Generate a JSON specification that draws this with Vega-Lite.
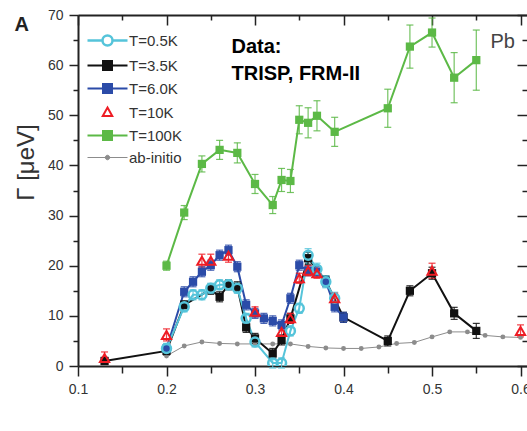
{
  "$schema": "https://vega.github.io/schema/vega-lite/v6.json",
  "autosize": {"type": "none"},
  "width": 449,
  "height": 351,
  "padding": {"left": 78, "top": 15, "right": 0, "bottom": 65},
  "background": "white",
  "config": {"view": {"stroke": null}, "font": "Liberation Sans",
    "axis": {"grid": false, "domainColor": "#222", "domainWidth": 2, "tickColor": "#222", "tickWidth": 1.5, "labelFont": "Liberation Sans", "labelFontSize": 14, "labelColor": "#333", "labelOverlap": false, "labelFlush": false}},
  "data": {"values": [
    {"series": "ab-initio", "x": 0.20, "y": 2.0},
    {"series": "ab-initio", "x": 0.22, "y": 4.0},
    {"series": "ab-initio", "x": 0.24, "y": 4.8},
    {"series": "ab-initio", "x": 0.26, "y": 4.5},
    {"series": "ab-initio", "x": 0.28, "y": 4.4},
    {"series": "ab-initio", "x": 0.30, "y": 4.4},
    {"series": "ab-initio", "x": 0.32, "y": 4.4},
    {"series": "ab-initio", "x": 0.34, "y": 4.4},
    {"series": "ab-initio", "x": 0.36, "y": 3.9},
    {"series": "ab-initio", "x": 0.38, "y": 3.6},
    {"series": "ab-initio", "x": 0.40, "y": 3.5},
    {"series": "ab-initio", "x": 0.42, "y": 3.5},
    {"series": "ab-initio", "x": 0.44, "y": 3.8},
    {"series": "ab-initio", "x": 0.46, "y": 4.5},
    {"series": "ab-initio", "x": 0.48, "y": 4.7},
    {"series": "ab-initio", "x": 0.50, "y": 5.8},
    {"series": "ab-initio", "x": 0.52, "y": 6.8},
    {"series": "ab-initio", "x": 0.54, "y": 6.8},
    {"series": "ab-initio", "x": 0.56, "y": 6.1},
    {"series": "ab-initio", "x": 0.58, "y": 5.8},
    {"series": "ab-initio", "x": 0.60, "y": 5.7},
    {"series": "T=100K", "x": 0.20, "y": 20.0, "err": 0.9},
    {"series": "T=100K", "x": 0.22, "y": 30.6, "err": 1.4},
    {"series": "T=100K", "x": 0.24, "y": 40.3, "err": 1.6},
    {"series": "T=100K", "x": 0.26, "y": 43.1, "err": 1.9},
    {"series": "T=100K", "x": 0.28, "y": 42.5, "err": 2.0},
    {"series": "T=100K", "x": 0.30, "y": 36.3, "err": 1.9},
    {"series": "T=100K", "x": 0.32, "y": 32.1, "err": 1.7},
    {"series": "T=100K", "x": 0.33, "y": 37.1, "err": 2.3},
    {"series": "T=100K", "x": 0.34, "y": 36.9, "err": 2.3},
    {"series": "T=100K", "x": 0.35, "y": 49.1, "err": 2.8},
    {"series": "T=100K", "x": 0.36, "y": 48.5, "err": 3.0},
    {"series": "T=100K", "x": 0.37, "y": 49.9, "err": 3.0},
    {"series": "T=100K", "x": 0.39, "y": 46.7, "err": 2.9},
    {"series": "T=100K", "x": 0.45, "y": 51.4, "err": 3.8},
    {"series": "T=100K", "x": 0.475, "y": 63.7, "err": 4.3},
    {"series": "T=100K", "x": 0.50, "y": 66.5, "err": 2.9},
    {"series": "T=100K", "x": 0.525, "y": 57.5, "err": 5.0},
    {"series": "T=100K", "x": 0.55, "y": 61.0, "err": 6.0},
    {"series": "T=3.5K", "x": 0.13, "y": 1.0, "err": 0.7},
    {"series": "T=3.5K", "x": 0.20, "y": 3.0, "err": 0.8},
    {"series": "T=3.5K", "x": 0.22, "y": 12.2, "err": 0.8},
    {"series": "T=3.5K", "x": 0.25, "y": 15.3, "err": 1.0},
    {"series": "T=3.5K", "x": 0.26, "y": 13.8, "err": 1.0},
    {"series": "T=3.5K", "x": 0.27, "y": 16.2, "err": 1.0},
    {"series": "T=3.5K", "x": 0.28, "y": 15.8, "err": 1.0},
    {"series": "T=3.5K", "x": 0.29, "y": 7.7, "err": 1.0},
    {"series": "T=3.5K", "x": 0.30, "y": 5.5, "err": 1.0},
    {"series": "T=3.5K", "x": 0.32, "y": 2.5, "err": 1.0},
    {"series": "T=3.5K", "x": 0.33, "y": 5.2, "err": 1.0},
    {"series": "T=3.5K", "x": 0.34, "y": 9.5, "err": 1.0},
    {"series": "T=3.5K", "x": 0.36, "y": 21.5, "err": 1.2},
    {"series": "T=3.5K", "x": 0.38, "y": 17.0, "err": 1.0},
    {"series": "T=3.5K", "x": 0.40, "y": 9.7, "err": 1.0},
    {"series": "T=3.5K", "x": 0.45, "y": 5.0, "err": 1.0},
    {"series": "T=3.5K", "x": 0.475, "y": 15.0, "err": 1.0},
    {"series": "T=3.5K", "x": 0.50, "y": 18.5, "err": 1.2},
    {"series": "T=3.5K", "x": 0.525, "y": 10.5, "err": 1.2},
    {"series": "T=3.5K", "x": 0.55, "y": 7.0, "err": 1.5},
    {"series": "T=6.0K", "x": 0.20, "y": 3.5, "err": 0.6},
    {"series": "T=6.0K", "x": 0.22, "y": 14.8, "err": 1.0},
    {"series": "T=6.0K", "x": 0.23, "y": 16.8, "err": 1.0},
    {"series": "T=6.0K", "x": 0.24, "y": 18.8, "err": 1.0},
    {"series": "T=6.0K", "x": 0.25, "y": 20.1, "err": 1.0},
    {"series": "T=6.0K", "x": 0.26, "y": 22.1, "err": 1.0},
    {"series": "T=6.0K", "x": 0.27, "y": 23.1, "err": 1.0},
    {"series": "T=6.0K", "x": 0.28, "y": 19.8, "err": 1.0},
    {"series": "T=6.0K", "x": 0.29, "y": 12.2, "err": 1.0},
    {"series": "T=6.0K", "x": 0.30, "y": 10.5, "err": 1.0},
    {"series": "T=6.0K", "x": 0.31, "y": 9.5, "err": 1.0},
    {"series": "T=6.0K", "x": 0.32, "y": 9.0, "err": 1.0},
    {"series": "T=6.0K", "x": 0.33, "y": 8.2, "err": 1.0},
    {"series": "T=6.0K", "x": 0.34, "y": 13.5, "err": 1.0},
    {"series": "T=6.0K", "x": 0.35, "y": 20.1, "err": 1.0},
    {"series": "T=6.0K", "x": 0.36, "y": 19.0, "err": 1.0},
    {"series": "T=6.0K", "x": 0.37, "y": 18.8, "err": 1.0},
    {"series": "T=6.0K", "x": 0.38, "y": 16.8, "err": 1.0},
    {"series": "T=6.0K", "x": 0.39, "y": 11.8, "err": 1.0},
    {"series": "T=6.0K", "x": 0.40, "y": 9.7, "err": 1.0},
    {"series": "T=0.5K", "x": 0.20, "y": 3.5, "err": 1.0},
    {"series": "T=0.5K", "x": 0.22, "y": 11.8, "err": 1.0},
    {"series": "T=0.5K", "x": 0.23, "y": 14.2, "err": 1.0},
    {"series": "T=0.5K", "x": 0.24, "y": 14.2, "err": 1.0},
    {"series": "T=0.5K", "x": 0.25, "y": 15.5, "err": 1.0},
    {"series": "T=0.5K", "x": 0.26, "y": 16.2, "err": 1.0},
    {"series": "T=0.5K", "x": 0.27, "y": 16.2, "err": 1.0},
    {"series": "T=0.5K", "x": 0.28, "y": 15.5, "err": 1.0},
    {"series": "T=0.5K", "x": 0.29, "y": 9.5, "err": 1.0},
    {"series": "T=0.5K", "x": 0.30, "y": 4.8, "err": 1.0},
    {"series": "T=0.5K", "x": 0.32, "y": 0.6, "err": 1.0},
    {"series": "T=0.5K", "x": 0.33, "y": 0.6, "err": 1.0},
    {"series": "T=0.5K", "x": 0.34, "y": 7.0, "err": 1.0},
    {"series": "T=0.5K", "x": 0.35, "y": 11.5, "err": 1.0},
    {"series": "T=0.5K", "x": 0.36, "y": 22.1, "err": 1.3},
    {"series": "T=0.5K", "x": 0.37, "y": 19.3, "err": 1.2},
    {"series": "T=0.5K", "x": 0.38, "y": 16.8, "err": 1.2},
    {"series": "T=0.5K", "x": 0.39, "y": 13.5, "err": 1.2},
    {"series": "T=10K", "x": 0.13, "y": 1.6, "err": 1.2},
    {"series": "T=10K", "x": 0.20, "y": 6.2, "err": 1.2},
    {"series": "T=10K", "x": 0.24, "y": 21.0, "err": 1.3},
    {"series": "T=10K", "x": 0.25, "y": 21.0, "err": 1.3},
    {"series": "T=10K", "x": 0.27, "y": 22.0, "err": 1.3},
    {"series": "T=10K", "x": 0.30, "y": 10.8, "err": 1.0},
    {"series": "T=10K", "x": 0.33, "y": 6.8, "err": 1.0},
    {"series": "T=10K", "x": 0.34, "y": 9.5, "err": 1.0},
    {"series": "T=10K", "x": 0.35, "y": 17.5, "err": 1.0},
    {"series": "T=10K", "x": 0.36, "y": 19.0, "err": 1.0},
    {"series": "T=10K", "x": 0.37, "y": 18.5, "err": 1.0},
    {"series": "T=10K", "x": 0.39, "y": 13.5, "err": 1.0},
    {"series": "T=10K", "x": 0.50, "y": 19.0, "err": 1.5},
    {"series": "T=10K", "x": 0.60, "y": 7.0, "err": 1.2}
  ]},
  "resolve": {"axis": {"x": "independent", "y": "independent"}},
  "layer": [
    {
      "transform": [{"filter": "datum.series === 'ab-initio'"}],
      "mark": {"type": "line", "strokeWidth": 1},
      "encoding": {
        "x": {"field": "x", "type": "quantitative", "scale": {"domain": [0.1, 0.6073], "nice": false, "zero": false},
          "axis": {"orient": "top", "values": [0.1,0.2,0.3,0.4,0.5,0.6], "labels": false, "title": null, "tickSize": -10}},
        "y": {"field": "y", "type": "quantitative", "scale": {"domain": [0, 70], "nice": false, "zero": false},
          "axis": {"orient": "right", "values": [0,10,20,30,40,50,60,70], "labels": false, "title": null, "domain": false, "tickSize": -10}},
        "color": {"field": "series", "type": "nominal",
          "scale": {"domain": ["T=0.5K","T=3.5K","T=6.0K","T=10K","T=100K","ab-initio"], "range": ["#55C4DA","#111111","#2B4BA8","#EE1C24","#5CB946","#8C8C8C"]},
          "legend": {"orient": "none", "legendX": 22, "legendY": 18, "title": null, "padding": 0,
            "symbolSize": 100, "labelOffset": 14, "rowPadding": 6,
            "labelFontSize": 15, "labelFont": "Liberation Sans", "labelColor": "#333",
            "encoding": {"symbols": {
              "shape": {"value": {"expr": "datum.value === 'T=10K' ? 'M0,-1L0.95,0.7L-0.95,0.7Z' : datum.value === 'T=0.5K' ? 'M-4,0H-1.1M1.1,0H4M-1,0A1,1,0,1,0,1,0A1,1,0,1,0,-1,0Z' : datum.value === 'ab-initio' ? 'M-4,0H4M-0.45,0A0.45,0.45,0,1,0,0.45,0A0.45,0.45,0,1,0,-0.45,0Z' : 'M-4,0H4M-0.9,-0.9H0.9V0.9H-0.9Z'"}},
              "fill": {"value": {"expr": "datum.value === 'T=0.5K' || datum.value === 'T=10K' ? 'transparent' : scale('color', datum.value)"}},
              "fillOpacity": {"value": {"expr": "datum.value === 'T=0.5K' || datum.value === 'T=10K' ? 0 : 1"}},
              "stroke": {"value": {"expr": "scale('color', datum.value)"}},
              "strokeWidth": {"value": {"expr": "datum.value === 'ab-initio' ? 1 : datum.value === 'T=0.5K' ? 2.5 : 2"}},
              "opacity": {"value": 1}
            }}
          }}
      }
    },
    {
      "transform": [{"filter": {"field": "series", "oneOf": ["T=100K","T=3.5K","T=6.0K","T=0.5K"]}}],
      "mark": {"type": "line", "strokeWidth": 2},
      "encoding": {
        "x": {"field": "x", "type": "quantitative", "scale": {"domain": [0.1, 0.6073], "nice": false, "zero": false},
          "axis": {"orient": "bottom", "values": [0.1,0.2,0.3,0.4,0.5,0.6], "format": ".1f", "tickSize": 10, "labelPadding": 6,
            "title": "ξ in (ξξ0) [r.l.u.]", "titleFont": "Liberation Sans", "titleFontSize": 20, "titleFontWeight": "normal", "titleColor": "#333",
            "titleX": 215, "titleY": 409, "titleAlign": "center", "titleBaseline": "alphabetic"}},
        "y": {"field": "y", "type": "quantitative", "scale": {"domain": [0, 70], "nice": false, "zero": false},
          "axis": {"orient": "left", "values": [0,10,20,30,40,50,60,70], "tickSize": 9, "labelPadding": 6,
            "title": "Γ [μeV]", "titleFont": "Liberation Sans", "titleFontSize": 24, "titleFontWeight": "normal", "titleColor": "#333",
            "titleX": -45, "titleY": 147, "titleAngle": 270, "titleAlign": "center", "titleBaseline": "alphabetic"}},
        "color": {"field": "series", "type": "nominal"}
      }
    },
    {
      "transform": [{"filter": "datum.series !== 'ab-initio'"}],
      "mark": {"type": "errorbar", "ticks": {"size": 7}, "thickness": 1.2, "opacity": 0.85},
      "encoding": {
        "x": {"field": "x", "type": "quantitative", "axis": null},
        "y": {"field": "y", "type": "quantitative", "axis": null},
        "yError": {"field": "err"},
        "color": {"field": "series", "type": "nominal"}
      }
    },
    {
      "transform": [{"filter": "datum.series === 'ab-initio'"}],
      "mark": {"type": "point", "shape": "circle", "filled": true, "size": 24, "opacity": 1},
      "encoding": {
        "x": {"field": "x", "type": "quantitative",
          "axis": {"orient": "bottom", "values": [0.15,0.25,0.35,0.45,0.55], "labels": false, "domain": false, "title": null, "tickSize": 7}},
        "y": {"field": "y", "type": "quantitative",
          "axis": {"orient": "left", "values": [5,15,25,35,45,55,65], "labels": false, "domain": false, "title": null, "tickSize": 5}},
        "color": {"field": "series", "type": "nominal"}
      }
    },
    {
      "transform": [{"filter": {"field": "series", "oneOf": ["T=100K","T=3.5K","T=6.0K"]}}],
      "mark": {"type": "square", "size": 68, "opacity": 1},
      "encoding": {
        "x": {"field": "x", "type": "quantitative",
          "axis": {"orient": "top", "values": [0.15,0.25,0.35,0.45,0.55], "labels": false, "domain": false, "title": null, "tickSize": -5}},
        "y": {"field": "y", "type": "quantitative",
          "axis": {"orient": "right", "values": [5,15,25,35,45,55,65], "labels": false, "domain": false, "title": null, "tickSize": -5}},
        "color": {"field": "series", "type": "nominal"}
      }
    },
    {
      "transform": [{"filter": "datum.series === 'T=0.5K'"}],
      "mark": {"type": "point", "shape": "circle", "filled": false, "size": 80, "strokeWidth": 2.5, "opacity": 1, "clip": true},
      "encoding": {
        "x": {"field": "x", "type": "quantitative", "axis": null},
        "y": {"field": "y", "type": "quantitative", "axis": null},
        "color": {"field": "series", "type": "nominal"}
      }
    },
    {
      "transform": [{"filter": "datum.series === 'T=10K'"}],
      "mark": {"type": "point", "shape": "triangle-up", "filled": false, "size": 85, "strokeWidth": 2, "opacity": 1},
      "encoding": {
        "x": {"field": "x", "type": "quantitative", "axis": null},
        "y": {"field": "y", "type": "quantitative", "axis": null},
        "color": {"field": "series", "type": "nominal"}
      }
    },
    {
      "data": {"values": [{}]},
      "mark": {"type": "text", "text": "A", "font": "Liberation Sans", "fontSize": 20, "fontWeight": "bold", "align": "center", "baseline": "middle", "color": "#222"},
      "encoding": {
        "x": {"datum": 0.0364, "type": "quantitative", "axis": null},
        "y": {"datum": 68.1, "type": "quantitative", "axis": null}
      }
    },
    {
      "data": {"values": [{}]},
      "mark": {"type": "text", "text": "Pb", "font": "Liberation Sans", "fontSize": 20, "align": "left", "baseline": "alphabetic", "color": "#444"},
      "encoding": {
        "x": {"datum": 0.566, "type": "quantitative", "axis": null},
        "y": {"datum": 63.4, "type": "quantitative", "axis": null}
      }
    },
    {
      "data": {"values": [{}]},
      "mark": {"type": "text", "text": ["Data:", "TRISP, FRM-II"], "lineHeight": 27, "font": "Liberation Sans", "fontSize": 20, "fontWeight": "bold", "align": "left", "baseline": "alphabetic", "color": "#000"},
      "encoding": {
        "x": {"datum": 0.2734, "type": "quantitative", "axis": null},
        "y": {"datum": 62.4, "type": "quantitative", "axis": null}
      }
    }
  ]
}
